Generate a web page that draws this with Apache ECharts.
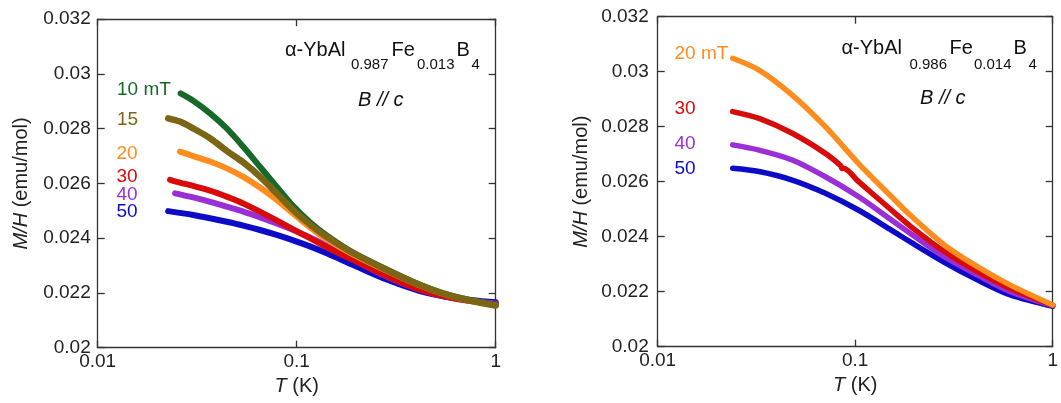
<!DOCTYPE html>
<html>
<head>
<meta charset="utf-8">
<script src="https://cdn.jsdelivr.net/npm/echarts@6/dist/echarts.min.js"></script>
<style>
html,body{margin:0;padding:0;background:#fff;}
#c{width:1061px;height:403px;}
</style>
</head>
<body>
<div id="c"></div>
<script>
// ---------- data: [T (K), M/H (emu/mol)] ----------
// Left panel: alpha-YbAl0.987Fe0.013B4
const left10 = [[0.0261,0.02929],[0.0302,0.02902],[0.0367,0.02856],[0.0445,0.02801],[0.0539,0.02734],[0.0654,0.02661],[0.0793,0.02588],[0.0961,0.02517],[0.1166,0.02458],[0.1415,0.02410],[0.1925,0.02347],[0.2834,0.02286],[0.4166,0.02230],[0.6121,0.02188],[1.0,0.02156]];
const left15 = [[0.0226,0.02838],[0.0259,0.02826],[0.0302,0.02801],[0.0367,0.02765],[0.0445,0.02719],[0.0539,0.02677],[0.0654,0.02625],[0.0793,0.02564],[0.0961,0.02503],[0.1166,0.02450],[0.1415,0.02405],[0.1925,0.02345],[0.2834,0.02284],[0.4166,0.02229],[0.6121,0.02187],[1.0,0.02154]];
const left20 = [[0.0259,0.02716],[0.0302,0.02700],[0.0367,0.02680],[0.0445,0.02655],[0.0539,0.02624],[0.0654,0.02585],[0.0793,0.02540],[0.0961,0.02490],[0.1166,0.02440],[0.1415,0.02396],[0.1925,0.02340],[0.2834,0.02281],[0.4166,0.02227],[0.6121,0.02186],[1.0,0.02155]];
const left30 = [[0.0231,0.02613],[0.0259,0.02603],[0.0302,0.02591],[0.0367,0.02574],[0.0445,0.02552],[0.0539,0.02527],[0.0654,0.02497],[0.0793,0.02465],[0.0961,0.02432],[0.1166,0.02400],[0.1415,0.02367],[0.1925,0.02320],[0.2834,0.02262],[0.4166,0.02212],[0.6121,0.02180],[1.0,0.02158]];
const left40 = [[0.0245,0.02564],[0.0302,0.02549],[0.0367,0.02533],[0.0445,0.02515],[0.0539,0.02497],[0.0654,0.02476],[0.0793,0.02454],[0.0961,0.02430],[0.1166,0.02403],[0.1415,0.02373],[0.1925,0.02322],[0.2834,0.02260],[0.4166,0.02212],[0.6121,0.02181],[1.0,0.02161]];
const left50 = [[0.0226,0.02499],[0.0302,0.02485],[0.0367,0.02473],[0.0445,0.02460],[0.0539,0.02446],[0.0654,0.02430],[0.0793,0.02412],[0.0961,0.02392],[0.1166,0.02370],[0.1415,0.02345],[0.1925,0.02302],[0.2834,0.02249],[0.4166,0.02207],[0.6121,0.02182],[1.0,0.02166]];
// Right panel: alpha-YbAl0.986Fe0.014B4
const right20 = [[0.02396,0.03049],[0.0326,0.03006],[0.048,0.02915],[0.0706,0.02800],[0.1037,0.02667],[0.1524,0.02546],[0.1920,0.02475],[0.2826,0.02370],[0.4153,0.02291],[0.6103,0.02224],[1.0,0.02152]];
const right30 = [[0.02396,0.02855],[0.0326,0.02830],[0.048,0.02776],[0.0706,0.02703],[0.0845,0.02658],[0.0858,0.02648],[0.0872,0.02649],[0.1037,0.02601],[0.1524,0.02497],[0.1920,0.02436],[0.2826,0.02346],[0.4153,0.02273],[0.6103,0.02212],[1.0,0.02151]];
const right40 = [[0.02396,0.02734],[0.0326,0.02715],[0.048,0.02679],[0.0706,0.02618],[0.1037,0.02546],[0.1524,0.02461],[0.1920,0.02410],[0.2826,0.02327],[0.4153,0.02261],[0.6103,0.02200],[1.0,0.02150]];
const right50 = [[0.02396,0.02649],[0.0326,0.02637],[0.048,0.02606],[0.0706,0.02558],[0.1037,0.02497],[0.1524,0.02424],[0.1920,0.02379],[0.2826,0.02307],[0.4153,0.02243],[0.6103,0.02188],[1.0,0.02147]];

const xTickLabels = ['0.01','0.1','1'];
const yMin = 0.020, yMax = 0.032, yStep = 0.002;

const FONT = "'Liberation Sans', Arial, Helvetica, sans-serif";
const AX = '#333';
const TXT = '#222';
const COL = {g10:'#17692a', o15:'#7a6614', or:'#ff8c1e', r:'#d90a0a', p:'#9a2fd8', b:'#0c0cc8'};

function xBottom(gi){
  return {type:'log', logBase:10, gridIndex:gi, min:0.01, max:1, position:'bottom',
    axisLine:{show:true, lineStyle:{color:AX, width:1.3}},
    axisTick:{show:true, inside:true, length:7, lineStyle:{color:AX, width:1.3}},
    minorTick:{show:false}, splitLine:{show:false},
    axisLabel:{show:true, margin:5, color:TXT, fontFamily:FONT, fontSize:19,
      showMinLabel:true, showMaxLabel:true,
      formatter:function(v){ const e=Math.round(Math.log10(v)); return xTickLabels[e+2]; }},
    name:'{i|T} (K)', nameLocation:'middle', nameGap:28,
    nameTextStyle:{color:TXT, fontFamily:FONT, fontSize:20, rich:{i:{fontStyle:'italic', fontFamily:FONT, fontSize:20, color:TXT}}}
  };
}
function xTop(gi){
  return {type:'log', logBase:10, gridIndex:gi, min:0.01, max:1, position:'top',
    axisLine:{show:true, lineStyle:{color:AX, width:1.3}},
    axisTick:{show:true, inside:true, length:7, lineStyle:{color:AX, width:1.3}},
    axisLabel:{show:false}, splitLine:{show:false}};
}
function yLeft(gi, margin){
  return {type:'value', gridIndex:gi, min:yMin, max:yMax, interval:yStep, position:'left',
    axisLine:{show:true, lineStyle:{color:AX, width:1.3}},
    axisTick:{show:true, inside:true, length:7, lineStyle:{color:AX, width:1.3}},
    splitLine:{show:false},
    axisLabel:{show:true, margin:margin, color:TXT, fontFamily:FONT, fontSize:19,
      showMinLabel:true, showMaxLabel:true,
      formatter:function(v){ return String(+(+v).toFixed(3)); }},
    name:'{i|M/H} (emu/mol)', nameLocation:'middle', nameGap:66,
    nameTextStyle:{color:TXT, fontFamily:FONT, fontSize:20, rich:{i:{fontStyle:'italic', fontFamily:FONT, fontSize:20, color:TXT}}}
  };
}
function yRight(gi){
  return {type:'value', gridIndex:gi, min:yMin, max:yMax, interval:yStep, position:'right',
    axisLine:{show:true, lineStyle:{color:AX, width:1.3}},
    axisTick:{show:true, inside:true, length:7, lineStyle:{color:AX, width:1.3}},
    splitLine:{show:false}, axisLabel:{show:false}};
}
function ser(data, color, xi, yi, w){
  return {type:'line', data:data, xAxisIndex:xi, yAxisIndex:yi, showSymbol:false, symbol:'none',
    smooth:0.3, lineStyle:{color:color, width:w, cap:'round', join:'round'}, itemStyle:{color:color}, silent:true};
}
function txt(s, x, y, size, color, italic){
  return {type:'text', x:x, y:y, style:{text:s, fill:color, font:(italic?'italic ':'')+size+'px '+FONT, textVerticalAlign:'middle', verticalAlign:'middle', align:'left'}};
}

const chart = echarts.init(document.getElementById('c'), null, {renderer:'canvas'});
chart.setOption({
  animation:false,
  backgroundColor:'#fff',
  grid:[
    {left:97.7, top:19.2, width:398, height:328.5, containLabel:false},
    {left:657.7, top:16.7, width:398.3, height:330, containLabel:false}
  ],
  xAxis:[xBottom(0), xTop(0), xBottom(1), xTop(1)],
  yAxis:[yLeft(0,7), yRight(0), yLeft(1,9), yRight(1)],
  series:[
    ser(left50, COL.b, 0, 0, 6),
    ser(left40, COL.p, 0, 0, 6),
    ser(left30, COL.r, 0, 0, 6),
    ser(left20, COL.or, 0, 0, 6),
    ser(left10, COL.g10, 0, 0, 6),
    ser(left15, COL.o15, 0, 0, 6.5),
    ser(right50, COL.b, 2, 2, 5.5),
    ser(right40, COL.p, 2, 2, 5.5),
    ser(right30, COL.r, 2, 2, 5.5),
    ser(right20, COL.or, 2, 2, 5.5)
  ],
  graphic:[
    // left panel annotations
    txt('α-YbAl', 285, 50, 20, '#111'),
    txt('0.987', 351, 65, 15, '#111'),
    txt('Fe', 391.5, 50, 20, '#111'),
    txt('0.013', 417, 65, 15, '#111'),
    txt('B', 456.5, 50, 20, '#111'),
    txt('4', 471.5, 65, 15, '#111'),
    txt('B // c', 358, 100.5, 20, '#111', true),
    txt('10 mT', 117, 89.5, 19, COL.g10),
    txt('15', 117, 120, 19, COL.o15),
    txt('20', 116.5, 154, 19, COL.or),
    txt('30', 116.5, 176.5, 19, COL.r),
    txt('40', 116.5, 195, 19, COL.p),
    txt('50', 116.5, 211.5, 19, COL.b),
    // right panel annotations
    txt('α-YbAl', 841.5, 48.5, 20, '#111'),
    txt('0.986', 909.5, 65, 15, '#111'),
    txt('Fe', 949.5, 48.5, 20, '#111'),
    txt('0.014', 974, 65, 15, '#111'),
    txt('B', 1013.5, 48.5, 20, '#111'),
    txt('4', 1028.5, 65, 15, '#111'),
    txt('B // c', 920, 98.5, 20, '#111', true),
    txt('20 mT', 674.5, 54, 19, COL.or),
    txt('30', 674.5, 109, 19, COL.r),
    txt('40', 674.5, 144, 19, COL.p),
    txt('50', 674.5, 169, 19, COL.b)
  ]
});
</script>
</body>
</html>
